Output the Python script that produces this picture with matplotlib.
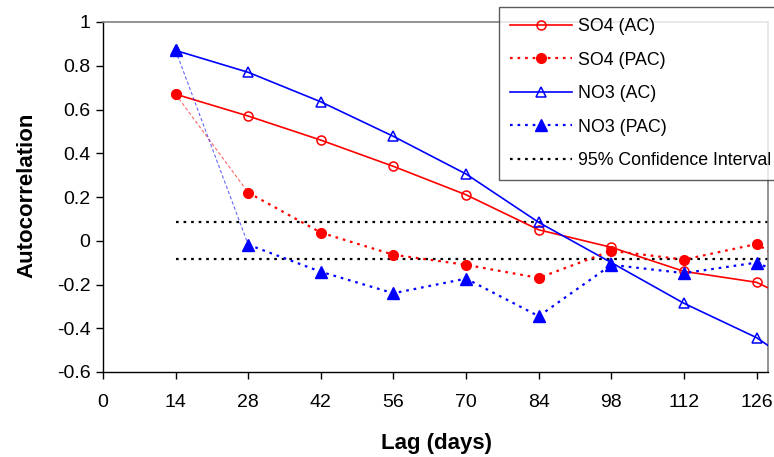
import matplotlib
matplotlib.use('Agg')
import matplotlib.pyplot as plt

plt.rcParams['font.family'] = ['Liberation Sans', 'DejaVu Sans']

# lag in days (140 is just past the right edge, the lines run out of the frame)
lags = [14, 28, 42, 56, 70, 84, 98, 112, 126, 140]
so4_ac = [0.67, 0.57, 0.46, 0.34, 0.21, 0.05, -0.03, -0.14, -0.19, -0.35]
so4_pac = [0.67, 0.22, 0.037, -0.064, -0.11, -0.17, -0.046, -0.086, -0.015, -0.21]
no3_ac = [0.87, 0.77, 0.635, 0.477, 0.305, 0.084, -0.10, -0.286, -0.443, -0.67]
no3_pac = [0.87, -0.018, -0.142, -0.24, -0.173, -0.345, -0.11, -0.148, -0.10, -0.245]
ci_lo, ci_hi = -0.085, 0.085
xticks = [0, 14, 28, 42, 56, 70, 84, 98, 112, 126]
yticks = [-0.6, -0.4, -0.2, 0, 0.2, 0.4, 0.6, 0.8, 1]

red = '#ff0000'
blue = '#0000ff'
dots = (0, (1.2, 2.2))

fig = plt.figure(figsize=(7.74, 4.57), dpi=100)
ax = fig.add_axes([103 / 774, 1 - 372 / 457, (768 - 103) / 774, (372 - 22) / 457])

# confidence interval
ax.plot([lags[0], lags[-1]], [ci_hi, ci_hi], color='black', lw=1.6, linestyle=dots,
        label='95% Confidence Interval', zorder=2)
ax.plot([lags[0], lags[-1]], [ci_lo, ci_lo], color='black', lw=1.6, linestyle=dots, zorder=2)

# AC lines
ax.plot(lags, so4_ac, color=red, lw=1.2, marker='o', ms=6.5, mfc='none', mec=red,
        mew=1.1, label='SO4 (AC)', zorder=3)
ax.plot(lags, no3_ac, color=blue, lw=1.2, marker='^', ms=7.5, mfc='none', mec=blue,
        mew=1.1, label='NO3 (AC)', zorder=3)

# PAC lines: thin dashed first step, dotted after that
ax.plot(lags[:2], so4_pac[:2], color=red, lw=0.8, alpha=0.6, linestyle=(0, (3, 2)), zorder=3)
ax.plot(lags[:2], no3_pac[:2], color=blue, lw=0.8, alpha=0.6, linestyle=(0, (3, 2)), zorder=3)
ax.plot(lags[1:], so4_pac[1:], color=red, lw=1.6, linestyle=dots, marker='o', ms=7,
        label='SO4 (PAC)', zorder=4)
ax.plot(lags[1:], no3_pac[1:], color=blue, lw=1.6, linestyle=dots, marker='^', ms=8,
        label='NO3 (PAC)', zorder=4)
ax.plot(lags[:1], so4_pac[:1], color=red, marker='o', ms=7, linestyle='none', zorder=4)
ax.plot(lags[:1], no3_pac[:1], color=blue, marker='^', ms=8, linestyle='none', zorder=4)

ax.set_xlim(0, 128.2)
ax.set_ylim(-0.6, 1)
ax.set_xticks(xticks)
ax.set_xticklabels([str(t) for t in xticks])
ax.set_yticks(yticks)
ax.set_yticklabels(['-0.6', '-0.4', '-0.2', '0', '0.2', '0.4', '0.6', '0.8', '1'])
ax.tick_params(axis='both', direction='out', length=5, width=1, labelsize=14, pad=4)
ax.tick_params(axis='x', pad=11)

for s in ['left', 'bottom']:
    ax.spines[s].set_color('black')
    ax.spines[s].set_linewidth(1)
for s in ['top', 'right']:
    ax.spines[s].set_color('#808080')
    ax.spines[s].set_linewidth(1.2)

ax.set_xlabel('Lag (days)', fontsize=16, fontweight='bold')
ax.set_ylabel('Autocorrelation', fontsize=16, fontweight='bold')
ax.xaxis.set_label_coords(0.5015, -0.175)
ax.yaxis.set_label_coords(-0.099, 0.506)

handles, labels = ax.get_legend_handles_labels()
order = ['SO4 (AC)', 'SO4 (PAC)', 'NO3 (AC)', 'NO3 (PAC)', '95% Confidence Interval']
hl = dict(zip(labels, handles))
# legend box runs past the right edge of the picture, as in the original
leg = fig.legend([hl[k] for k in order], order, loc='upper left', mode='expand',
                 bbox_to_anchor=(499 / 774, 0, 330 / 774, 1 - 7 / 457), fontsize=12.8,
                 frameon=True, fancybox=False, handlelength=3.5, handletextpad=0.3,
                 labelspacing=0.93, borderpad=0.62, borderaxespad=0)
leg.get_frame().set_edgecolor('#333333')
leg.get_frame().set_linewidth(1)
leg.set_zorder(10)

fig.savefig('out.png', dpi=100)
